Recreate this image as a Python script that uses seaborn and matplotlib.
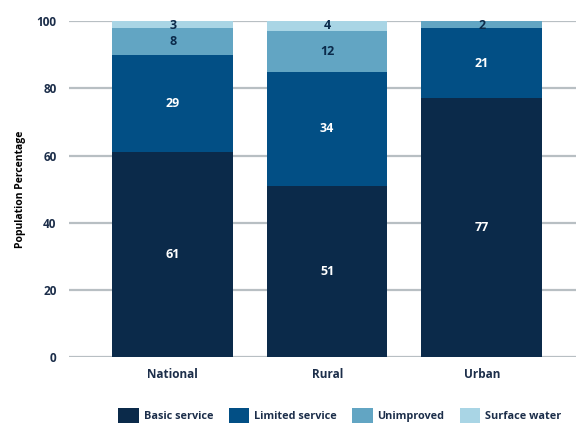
import matplotlib
matplotlib.use("Agg")
import matplotlib.pyplot as plt
import seaborn as sns
import numpy as np
import pandas as pd
from matplotlib.patches import Patch

sns.set_theme(style="white")
plt.rcParams["font.family"] = ["Open Sans", "DejaVu Sans"]

areas = ["National", "Rural", "Urban"]
basic_service = [61, 51, 77]
limited_service = [29, 34, 21]
unimproved = [8, 12, 2]
surface_water = [3, 4, 0]

series_names = ["Basic service", "Limited service", "Unimproved", "Surface water"]
series_values = [basic_service, limited_service, unimproved, surface_water]
colors = ["#0b2a4a", "#024f85", "#62a5c3", "#a9d5e5"]
label_colors = ["white", "white", "#0b2a4a", "#0b2a4a"]
navy = "#1c2e4a"

fig = plt.figure(figsize=(5.76, 4.25), dpi=100)
ax = fig.add_axes([0.12, 0.16, 0.88, 0.79])

ax.set_axisbelow(True)
ax.yaxis.grid(True, color="#b8bfc3", linewidth=1.6)
ax.xaxis.grid(False)

bottom = np.zeros(len(areas))
for name, vals, col, lcol in zip(series_names, series_values, colors, label_colors):
    df = pd.DataFrame({"area": areas, "value": vals})
    sns.barplot(data=df, x="area", y="value", color=col, bottom=bottom,
                width=0.78, ax=ax, saturation=1, errorbar=None, linewidth=0)
    for i, v in enumerate(vals):
        if v > 0:
            yc = min(bottom[i] + v / 2, 98.6)
            ax.text(i, yc, f"{v}", ha="center", va="center", color=lcol,
                    fontsize=9, fontweight="bold")
    bottom = bottom + np.array(vals)

ax.set_ylim(0, 100)
ax.set_xlim(-0.67, 2.61)
ax.set_yticks([0, 20, 40, 60, 80, 100])
for s in ax.spines.values():
    s.set_visible(False)
ax.tick_params(axis="both", length=0, labelsize=8.5, labelcolor=navy)
ax.tick_params(axis="y", pad=9)
ax.tick_params(axis="x", pad=8)
for lbl in ax.get_xticklabels() + ax.get_yticklabels():
    lbl.set_fontweight("bold")
ax.set_xlabel("")
ax.set_ylabel("Population Percentage", fontsize=7.5, fontweight="bold",
              color="black", labelpad=8)

handles = [Patch(facecolor=c, edgecolor="none", label=n) for n, c in zip(series_names, colors)]
leg = fig.legend(handles=handles, loc="lower center", bbox_to_anchor=(0.59, -0.018),
                 ncol=4, frameon=False, fontsize=7.8, handlelength=1.9, handleheight=1.7,
                 handletextpad=0.45, columnspacing=1.4)
for t in leg.get_texts():
    t.set_fontweight("bold")
    t.set_color(navy)

fig.savefig("out.png", dpi=100)
